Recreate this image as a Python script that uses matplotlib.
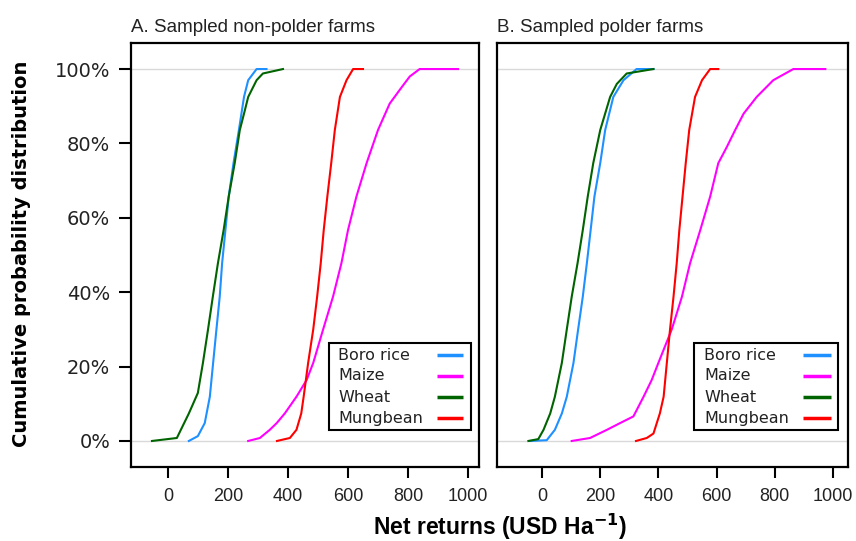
"""Cumulative distribution of net returns, non-polder vs polder farms."""

import matplotlib
matplotlib.use("Agg")
import matplotlib.pyplot as plt
from matplotlib.patches import Rectangle
from matplotlib.ticker import PercentFormatter

plt.rcParams["font.family"] = ["Liberation Sans", "DejaVu Sans"]

crops = ["Boro rice", "Maize", "Wheat", "Mungbean"]
colors = ["#1E90FF", "#FF00FF", "#006400", "#FF0000"]

# ---- panel A: non-polder farms (value in USD/ha, cumulative probability) ----
a_boro_x = [69, 99, 122, 139, 150, 161, 172, 180, 191, 202, 218, 236, 253, 267, 295, 328]
a_boro_p = [0, 0.013, 0.048, 0.119, 0.21, 0.30, 0.388, 0.478, 0.567, 0.657, 0.747, 0.836, 0.925, 0.97, 1, 1]

a_maize_x = [267, 306, 339, 362, 389, 428, 462, 484, 517, 550, 578, 600, 628, 662, 700, 739, 778, 806, 839, 967]
a_maize_p = [0, 0.008, 0.03, 0.048, 0.074, 0.119, 0.164, 0.21, 0.30, 0.388, 0.478, 0.567, 0.657, 0.747, 0.836, 0.907, 0.95, 0.98, 1, 1]

a_wheat_x = [-54, 29, 69, 99, 116, 133, 149, 166, 185, 202, 222, 239, 253, 267, 295, 316, 383]
a_wheat_p = [0, 0.008, 0.074, 0.129, 0.21, 0.30, 0.388, 0.478, 0.567, 0.657, 0.747, 0.836, 0.88, 0.925, 0.97, 0.988, 1]

a_mung_x = [363, 406, 428, 444, 452, 467, 484, 497, 509, 519, 531, 544, 556, 573, 595, 617, 650]
a_mung_p = [0, 0.008, 0.03, 0.074, 0.119, 0.21, 0.30, 0.388, 0.478, 0.567, 0.657, 0.747, 0.836, 0.925, 0.97, 1, 1]

# ---- panel B: polder farms ----
b_boro_x = [-41, 16, 44, 68, 85, 108, 124, 140, 154, 167, 180, 200, 217, 245, 280, 325, 383]
b_boro_p = [0, 0.002, 0.03, 0.074, 0.119, 0.21, 0.30, 0.388, 0.478, 0.567, 0.657, 0.747, 0.836, 0.925, 0.97, 1, 1]

b_maize_x = [102, 165, 223, 268, 314, 349, 377, 400, 446, 481, 509, 544, 578, 606, 635, 664, 693, 738, 795, 864, 974]
b_maize_p = [0, 0.008, 0.03, 0.048, 0.066, 0.119, 0.164, 0.21, 0.30, 0.388, 0.478, 0.567, 0.657, 0.747, 0.79, 0.836, 0.88, 0.925, 0.97, 1, 1]

b_wheat_x = [-47, -13, 5, 28, 44, 68, 85, 102, 122, 140, 157, 176, 200, 234, 257, 291, 383]
b_wheat_p = [0, 0.005, 0.03, 0.074, 0.119, 0.21, 0.30, 0.388, 0.478, 0.567, 0.657, 0.747, 0.836, 0.925, 0.96, 0.988, 1]

b_mung_x = [323, 360, 383, 405, 418, 429, 440, 452, 463, 472, 483, 494, 506, 526, 550, 578, 606]
b_mung_p = [0, 0.008, 0.02, 0.074, 0.119, 0.21, 0.30, 0.388, 0.478, 0.567, 0.657, 0.747, 0.836, 0.925, 0.97, 1, 1]

panels = [
    ("A. Sampled non-polder farms", (-124, 1037),
     [(a_boro_x, a_boro_p), (a_maize_x, a_maize_p), (a_wheat_x, a_wheat_p), (a_mung_x, a_mung_p)]),
    ("B. Sampled polder farms", (-155, 1052),
     [(b_boro_x, b_boro_p), (b_maize_x, b_maize_p), (b_wheat_x, b_wheat_p), (b_mung_x, b_mung_p)]),
]

W, H = 856, 541
fig = plt.figure(figsize=(W / 100, H / 100), dpi=100)

# pixel boxes (left, top, right, bottom) and legend geometry in pixels
ax_boxes = [(131, 43, 479, 467), (497, 43, 848, 467)]
leg_boxes = [(329, 343, 471, 430), (694, 343, 838, 430)]
leg_text_x = [338, 704]
leg_line_x = [(437, 463), (803, 831)]
leg_rows_y = [355, 376, 397, 418]

for i, ((title, xlim, series), box) in enumerate(zip(panels, ax_boxes)):
    l, t, r, b = box
    ax = fig.add_axes([l / W, (H - b) / H, (r - l) / W, (b - t) / H])
    fx = lambda px: (px - l) / (r - l)
    fy = lambda py: (b - py) / (b - t)

    ax.axhline(0, color="#d9d9d9", lw=1, zorder=1)
    ax.axhline(1, color="#d9d9d9", lw=1, zorder=1)
    for name, col, (xs, ps) in zip(crops, colors, series):
        ax.plot(xs, ps, color=col, lw=1.5, label=name, zorder=2)

    ax.set_xlim(*xlim)
    ax.set_ylim(-0.07, 1.07)
    ax.set_xticks([0, 200, 400, 600, 800, 1000])
    ax.tick_params(axis="x", length=8, width=1.5, pad=7, labelsize=13,
                   labelcolor="#222222")
    ax.set_yticks([0, 0.2, 0.4, 0.6, 0.8, 1.0])
    ax.yaxis.set_major_formatter(PercentFormatter(1.0, decimals=0))
    if i == 0:
        ax.tick_params(axis="y", length=9, width=1.5, pad=6, labelsize=14,
                       labelcolor="#222222")
        for lab in ax.get_yticklabels():
            lab.set_family("DejaVu Sans")
    else:
        ax.tick_params(axis="y", left=False, labelleft=False)
    for sp in ax.spines.values():
        sp.set_linewidth(1.6)

    ax.set_title(title, loc="left", fontsize=13.5, pad=8, color="#222222")

    # legend: text on the left, line on the right, in a black frame
    lx0, ly0, lx1, ly1 = leg_boxes[i]
    ax.add_patch(Rectangle((fx(lx0), fy(ly1)), fx(lx1) - fx(lx0), fy(ly0) - fy(ly1),
                           transform=ax.transAxes, facecolor="white",
                           edgecolor="black", lw=1.5, zorder=5))
    for name, col, ry in zip(crops, colors, leg_rows_y):
        ax.text(fx(leg_text_x[i]), fy(ry), name, transform=ax.transAxes,
                ha="left", va="center", fontsize=11.5, family="DejaVu Sans",
                color="#222222", zorder=6)
        ax.plot([fx(leg_line_x[i][0]), fx(leg_line_x[i][1])], [fy(ry), fy(ry)],
                transform=ax.transAxes, color=col, lw=2.5, zorder=6,
                solid_capstyle="butt")

fig.text(22 / W, 1 - 254 / H, "Cumulative probability distribution", rotation=90,
         ha="center", va="center", fontsize=14, fontweight="bold",
         family="DejaVu Sans")
fig.text(500 / W, 1 - 535 / H, r"Net returns (USD Ha$^{\mathbf{-1}}$)", ha="center",
         va="baseline", fontsize=16.5, fontweight="bold")

fig.savefig("out.png", dpi=100)
